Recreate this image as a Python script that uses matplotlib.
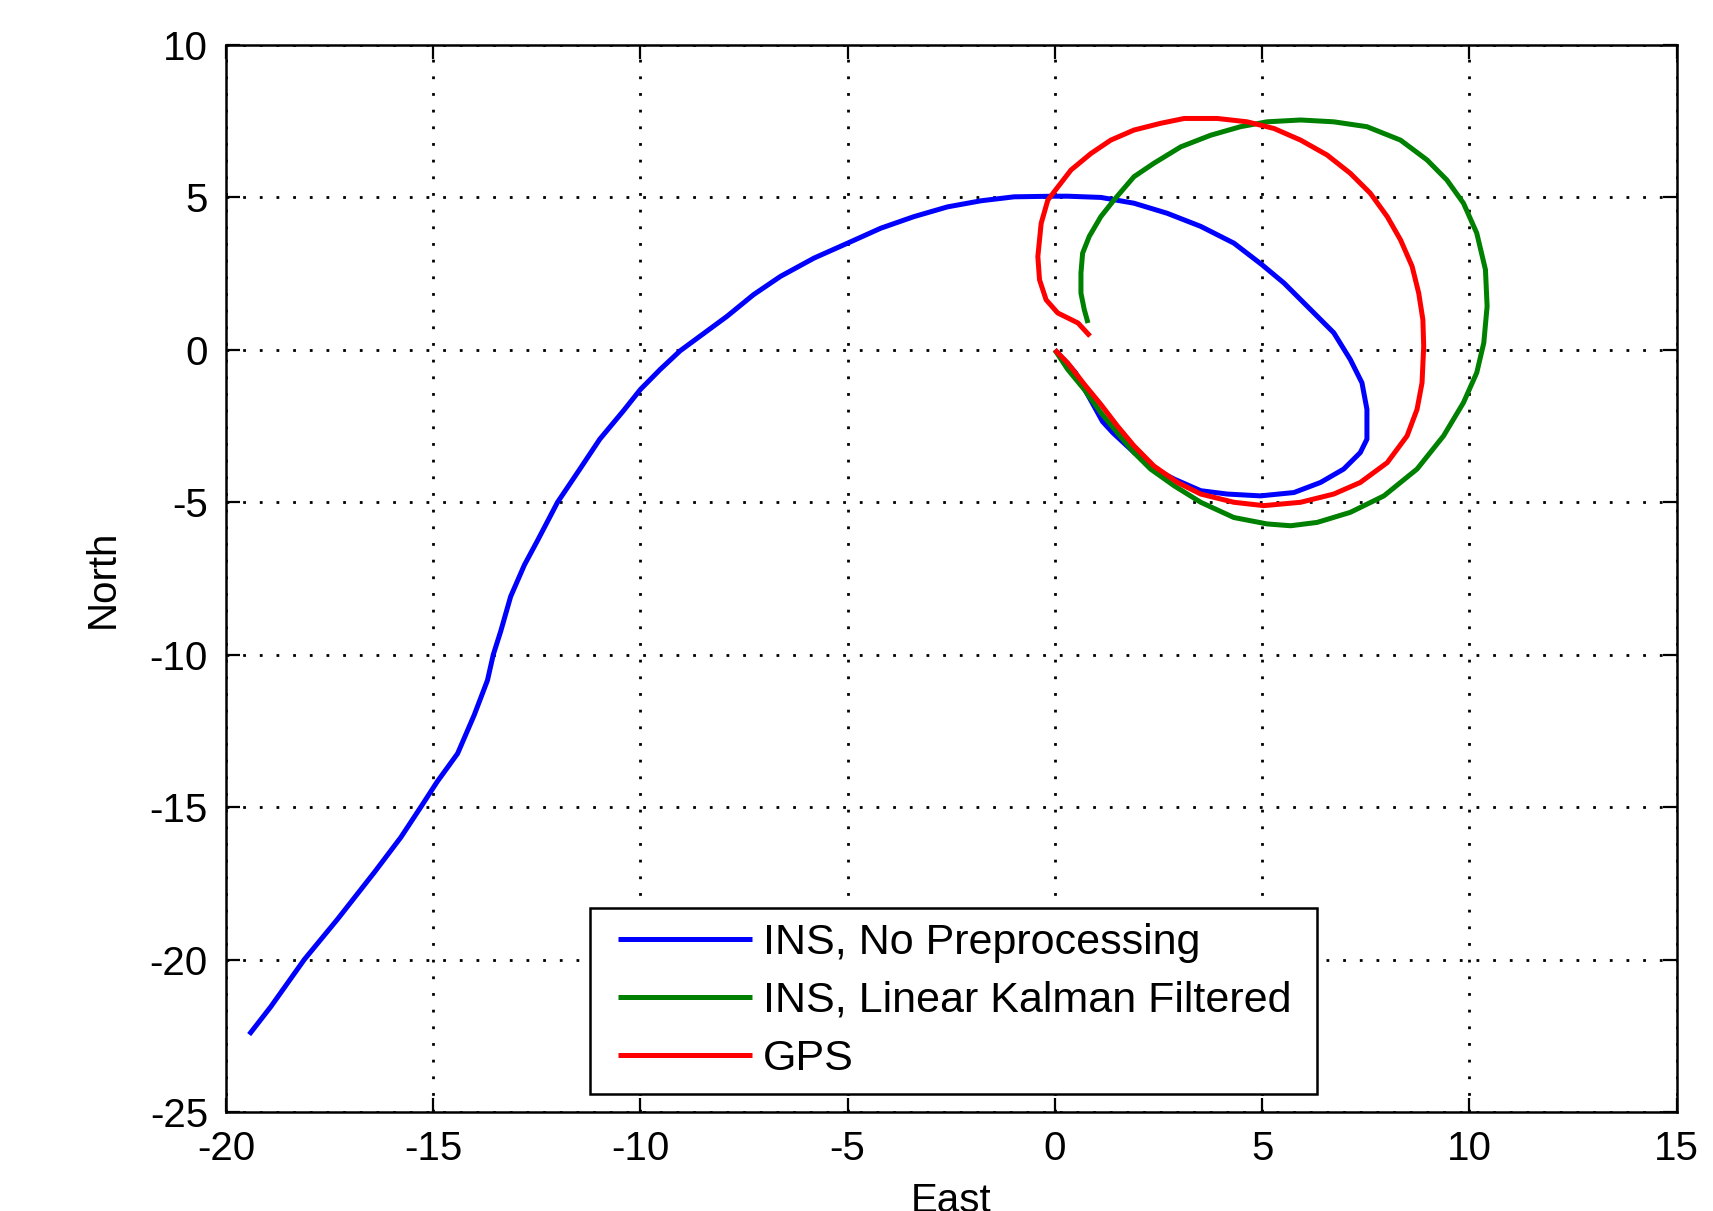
import matplotlib
matplotlib.use("Agg")
import matplotlib.pyplot as plt
from matplotlib.legend_handler import HandlerLine2D

# --- Data (East, North) ---
ins_east = [0.0, 0.5, 1.15, 1.4, 1.9, 2.4, 2.88, 3.52, 4.16, 4.96, 5.77, 6.41,
            6.97, 7.37, 7.53, 7.53, 7.41, 7.13, 6.73, 6.09, 5.53, 5.0, 4.32,
            3.52, 2.71, 1.91, 1.11, 0.3, 0.0, -0.98, -1.78, -2.59, -3.4, -4.2,
            -5.0, -5.81, -6.62, -7.27, -7.91, -8.56, -9.04, -9.52, -10.0,
            -10.41, -10.98, -11.46, -12.0, -12.48, -12.8, -13.13, -13.37,
            -13.55, -13.69, -14.01, -14.41, -14.9, -15.3, -15.78, -16.42,
            -17.31, -18.11, -18.92, -19.44]
ins_north = [0.0, -0.75, -2.35, -2.72, -3.35, -3.9, -4.24, -4.62, -4.73,
             -4.79, -4.68, -4.35, -3.91, -3.37, -2.93, -1.95, -1.08, -0.32,
             0.56, 1.43, 2.19, 2.79, 3.5, 4.05, 4.48, 4.81, 5.0, 5.04, 5.04,
             5.02, 4.89, 4.69, 4.37, 3.99, 3.5, 3.01, 2.41, 1.81, 1.1, 0.45,
             -0.03, -0.64, -1.3, -2.0, -2.93, -3.91, -5.0, -6.25, -7.06, -8.09,
             -9.23, -10.0, -10.84, -11.98, -13.24, -14.16, -15.0, -15.99,
             -17.14, -18.68, -20.0, -21.55, -22.46]

kf_east = [0.0, 0.31, 0.71, 1.11, 1.51, 1.91, 2.31, 2.88, 3.52, 4.32, 5.12,
           5.69, 6.33, 7.13, 7.94, 8.74, 9.38, 9.86, 10.18, 10.35, 10.43,
           10.39, 10.18, 9.86, 9.46, 8.98, 8.34, 7.53, 6.73, 5.93, 5.12, 4.48,
           3.76, 3.04, 2.39, 1.91, 1.43, 1.11, 0.83, 0.67, 0.63, 0.63, 0.71,
           0.8]
kf_north = [0.0, -0.64, -1.3, -2.06, -2.72, -3.37, -3.91, -4.46, -5.0, -5.5,
            -5.71, -5.77, -5.66, -5.33, -4.79, -3.91, -2.82, -1.73, -0.75,
            0.23, 1.43, 2.63, 3.83, 4.81, 5.57, 6.23, 6.88, 7.32, 7.48, 7.54,
            7.48, 7.32, 7.04, 6.66, 6.12, 5.68, 4.92, 4.37, 3.72, 3.17, 2.52,
            1.86, 1.32, 0.88]

gps_east = [0.0, 0.31, 0.71, 1.11, 1.51, 1.91, 2.39, 2.96, 3.52, 4.32, 5.04,
            5.93, 6.73, 7.37, 8.02, 8.5, 8.74, 8.86, 8.9, 8.88, 8.78, 8.62,
            8.34, 8.02, 7.61, 7.13, 6.57, 5.93, 5.29, 4.64, 3.92, 3.12, 2.55,
            1.91, 1.35, 0.87, 0.39, 0.02, -0.17, -0.33, -0.41, -0.37, -0.21,
            0.07, 0.56, 0.85]
gps_north = [0.0, -0.43, -1.13, -1.79, -2.5, -3.15, -3.81, -4.35, -4.73,
             -5.0, -5.11, -5.0, -4.73, -4.35, -3.7, -2.82, -1.95, -1.08, 0.12,
             0.99, 1.86, 2.74, 3.61, 4.37, 5.14, 5.79, 6.39, 6.88, 7.26, 7.48,
             7.59, 7.59, 7.43, 7.21, 6.88, 6.44, 5.9, 5.25, 4.91, 4.15, 3.06,
             2.3, 1.64, 1.21, 0.88, 0.45]

xticks = [-20, -15, -10, -5, 0, 5, 10, 15]
yticks = [-25, -20, -15, -10, -5, 0, 5, 10]


# legend line starts a little in from the frame, like the original
class InsetLine(HandlerLine2D):
    def get_xdata(self, legend, xdescent, ydescent, width, height, fontsize):
        x0 = -xdescent + 0.3 * fontsize
        x1 = -xdescent + width
        return [x0, x1], [x0, x1]


plt.rcParams["font.family"] = ["Liberation Sans", "DejaVu Sans"]
plt.rcParams["axes.unicode_minus"] = False

fig = plt.figure(figsize=(17.13, 12.11), dpi=100)
ax = fig.add_axes([0.1319, 0.08175, 0.8468, 0.8811])

lw = 3.6
style = dict(linewidth=lw, solid_joinstyle="round", solid_capstyle="butt")
ax.plot(ins_east, ins_north, color="#0000ff", label="INS, No Preprocessing", **style)
ax.plot(kf_east, kf_north, color="#008000", label="INS, Linear Kalman Filtered", **style)
ax.plot(gps_east, gps_north, color="#ff0000", label="GPS", **style)

ax.set_xlim(-20, 15)
ax.set_ylim(-25, 10)
ax.set_xticks(xticks)
ax.set_yticks(yticks)
ax.tick_params(direction="in", top=True, right=True, length=10, width=1.6,
               labelsize=29, pad=13)
ax.grid(True, color="black", linestyle=(0, (1, 5)), linewidth=2.0)
for sp in ax.spines.values():
    sp.set_linewidth(1.8)

ax.set_xlabel("East", fontsize=29, labelpad=10)
ax.set_ylabel("North", fontsize=29, labelpad=20)

leg = ax.legend(loc="lower left", bbox_to_anchor=(0.251, 0.0169, 0.5012, 0.176),
                mode="expand", borderaxespad=0, fontsize=31, handlelength=3.42,
                handletextpad=0.25, borderpad=0.35, labelspacing=0.42,
                fancybox=False, framealpha=1, edgecolor="black",
                handler_map={matplotlib.lines.Line2D: InsetLine()})
leg.get_frame().set_linewidth(1.8)

fig.savefig("out.png", dpi=100)
